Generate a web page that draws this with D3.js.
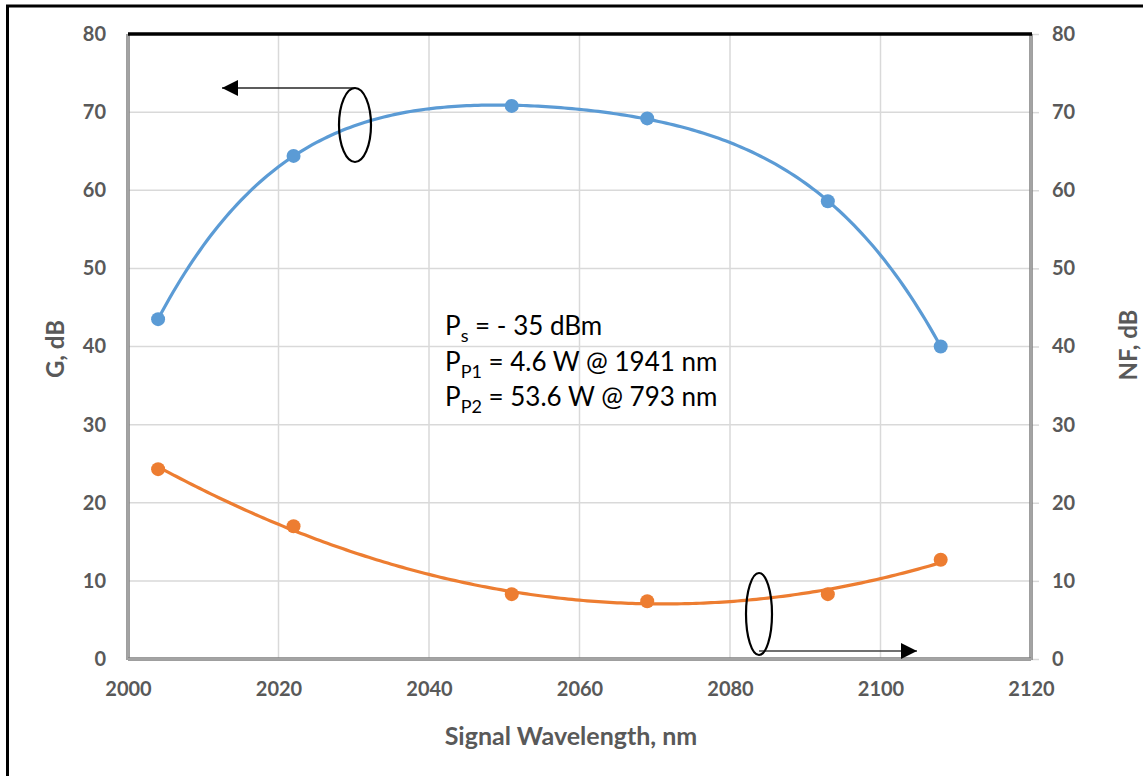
<!DOCTYPE html>
<html><head><meta charset="utf-8">
<script src="https://cdn.jsdelivr.net/npm/d3@7"></script>
<style>body{margin:0;background:#fff}svg{display:block}</style>
</head><body>
<svg id="c" width="1143" height="776"></svg>
<script>
const wavelengths = [2004, 2022, 2051, 2069, 2093, 2108];
const gainValues = [43.5, 64.4, 70.8, 69.2, 58.6, 40.0];
const nfValues = [24.3, 17.0, 8.3, 7.4, 8.3, 12.7];
const xTicks = [2000, 2020, 2040, 2060, 2080, 2100, 2120];
const yTicks = [0, 10, 20, 30, 40, 50, 60, 70, 80];

const svg = d3.select("#c");
const L = 128, R = 1031, T = 34, B = 659;
const x = d3.scaleLinear().domain([2000, 2120]).range([L, R]);
const y = d3.scaleLinear().domain([0, 80]).range([B, T]);
const font = "Lato, 'Open Sans', sans-serif";
const grey = "#595959";

// least-squares polynomial trendline (like the spreadsheet trendline), fitted to the data arrays
function polyfit(xs, ys, order) {
  const x0 = d3.mean(xs), s = 50;
  const n = order + 1;
  const A = Array.from({length: n}, () => new Array(n + 1).fill(0));
  xs.forEach((xv, k) => {
    const u = (xv - x0) / s;
    for (let i = 0; i < n; i++) {
      for (let j = 0; j < n; j++) A[i][j] += Math.pow(u, i + j);
      A[i][n] += ys[k] * Math.pow(u, i);
    }
  });
  for (let i = 0; i < n; i++) {
    let p = i;
    for (let r = i + 1; r < n; r++) if (Math.abs(A[r][i]) > Math.abs(A[p][i])) p = r;
    [A[i], A[p]] = [A[p], A[i]];
    for (let r = 0; r < n; r++) if (r !== i) {
      const f = A[r][i] / A[i][i];
      for (let c = i; c <= n; c++) A[r][c] -= f * A[i][c];
    }
  }
  const coef = A.map((row, i) => row[n] / row[i]);
  return xv => coef.reduce((acc, c, i) => acc + c * Math.pow((xv - x0) / s, i), 0);
}

// outer frame (left and top only)
svg.append("line").attr("x1", 7.5).attr("x2", 7.5).attr("y1", 5).attr("y2", 776).attr("stroke", "#000").attr("stroke-width", 3);
svg.append("line").attr("x1", 6).attr("x2", 1143).attr("y1", 6).attr("y2", 6).attr("stroke", "#000").attr("stroke-width", 3);

// gridlines
const g = svg.append("g");
g.selectAll(".vg").data(xTicks.slice(1, -1)).join("line")
  .attr("x1", d => x(d)).attr("x2", d => x(d)).attr("y1", T).attr("y2", B)
  .attr("stroke", "#d9d9d9").attr("stroke-width", 1.5);
g.selectAll(".hg").data(yTicks.slice(1, -1)).join("line")
  .attr("x1", L).attr("x2", R).attr("y1", d => y(d)).attr("y2", d => y(d))
  .attr("stroke", "#d9d9d9").attr("stroke-width", 1.5);

// axes via d3
const axL = d3.axisLeft(y).tickValues(yTicks).tickSize(0).tickPadding(22);
const axR = d3.axisRight(y).tickValues(yTicks).tickSize(8).tickPadding(13);
const axB = d3.axisBottom(x).tickValues(xTicks).tickFormat(d3.format("d")).tickSize(0).tickPadding(23);
function style(sel){
  sel.select(".domain").remove();
  sel.selectAll("text").attr("fill", grey).attr("font-family", font).attr("font-weight", "bold").attr("font-size", 20);
  sel.selectAll("line").attr("stroke", "#d9d9d9").attr("stroke-width", 1.5);
}
svg.append("g").attr("transform", `translate(${L},0)`).call(axL).call(style);
svg.append("g").attr("transform", `translate(${R},0)`).call(axR).call(style);
svg.append("g").attr("transform", `translate(0,${B})`).call(axB).call(style);

// axis frame lines: double grey
function dbl(x1, y1, x2, y2){
  svg.append("line").attr("x1", x1).attr("y1", y1).attr("x2", x2).attr("y2", y2).attr("stroke", "#7f7f7f").attr("stroke-width", 3.5);
  svg.append("line").attr("x1", x1).attr("y1", y1).attr("x2", x2).attr("y2", y2).attr("stroke", "#c8c8c8").attr("stroke-width", 1);
}
dbl(L, T, L, B + 1);
dbl(R, T, R, B + 1);
dbl(L, B, R, B);
svg.append("line").attr("x1", L).attr("x2", R + 1).attr("y1", T).attr("y2", T).attr("stroke", "#000").attr("stroke-width", 3.5);

// series
const blue = "#5b9bd5", orange = "#ed7d31";
const xFine = d3.range(wavelengths[0], wavelengths[wavelengths.length - 1] + 0.01, 0.5);
const fitG = polyfit(wavelengths, gainValues, 4);
const fitN = polyfit(wavelengths, nfValues, 2);
const trend = f => d3.line().x(d => x(d)).y(d => y(f(d)))(xFine);
svg.append("path").attr("d", trend(fitG)).attr("fill", "none").attr("stroke", blue).attr("stroke-width", 3.2);
svg.append("path").attr("d", trend(fitN)).attr("fill", "none").attr("stroke", orange).attr("stroke-width", 3.2);
svg.selectAll(".bp").data(gainValues).join("circle").attr("cx", (d, i) => x(wavelengths[i])).attr("cy", d => y(d)).attr("r", 7).attr("fill", blue);
svg.selectAll(".op").data(nfValues).join("circle").attr("cx", (d, i) => x(wavelengths[i])).attr("cy", d => y(d)).attr("r", 7).attr("fill", orange);

// axis titles
svg.append("text").attr("x", 571).attr("y", 745).attr("text-anchor", "middle").attr("fill", grey)
  .attr("font-family", font).attr("font-weight", "bold").attr("font-size", 25).text("Signal Wavelength, nm");
svg.append("text").attr("transform", "translate(64,349) rotate(-90)").attr("text-anchor", "middle").attr("fill", grey)
  .attr("font-family", font).attr("font-weight", "bold").attr("font-size", 24).text("G, dB");
svg.append("text").attr("transform", "translate(1137,345) rotate(-90)").attr("text-anchor", "middle").attr("fill", grey)
  .attr("font-family", font).attr("font-weight", "bold").attr("font-size", 24).text("NF, dB");

// annotation text
const ann = [["P", "s", " = - 35 dBm"], ["P", "P1", " = 4.6 W @ 1941 nm"], ["P", "P2", " = 53.6 W @ 793 nm"]];
ann.forEach((a, i) => {
  const t = svg.append("text").attr("x", 445).attr("y", 335 + i * 35.5).attr("font-family", font).attr("font-size", 26).attr("fill", "#000");
  t.append("tspan").text(a[0]);
  t.append("tspan").attr("dy", 7).attr("font-size", 18).text(a[1]);
  t.append("tspan").attr("dy", -7).text(a[2]);
});

// ellipses and arrows
svg.append("defs").append("marker").attr("id", "ah").attr("viewBox", "0 0 10 10").attr("refX", 10).attr("refY", 5)
  .attr("markerWidth", 16).attr("markerHeight", 16).attr("markerUnits", "userSpaceOnUse").attr("orient", "auto")
  .append("path").attr("d", "M0,0L10,5L0,10Z").attr("fill", "#000");
svg.append("line").attr("x1", 355).attr("y1", 88).attr("x2", 222).attr("y2", 88).attr("stroke", "#262626").attr("stroke-width", 1.5).attr("marker-end", "url(#ah)");
svg.append("ellipse").attr("cx", 355).attr("cy", 125).attr("rx", 16).attr("ry", 37).attr("fill", "none").attr("stroke", "#000").attr("stroke-width", 2.2);
svg.append("line").attr("x1", 759).attr("y1", 651).attr("x2", 917).attr("y2", 651).attr("stroke", "#404040").attr("stroke-width", 1.5).attr("marker-end", "url(#ah)");
svg.append("ellipse").attr("cx", 759).attr("cy", 614).attr("rx", 13).attr("ry", 41).attr("fill", "none").attr("stroke", "#000").attr("stroke-width", 2.2);
</script>
</body></html>
